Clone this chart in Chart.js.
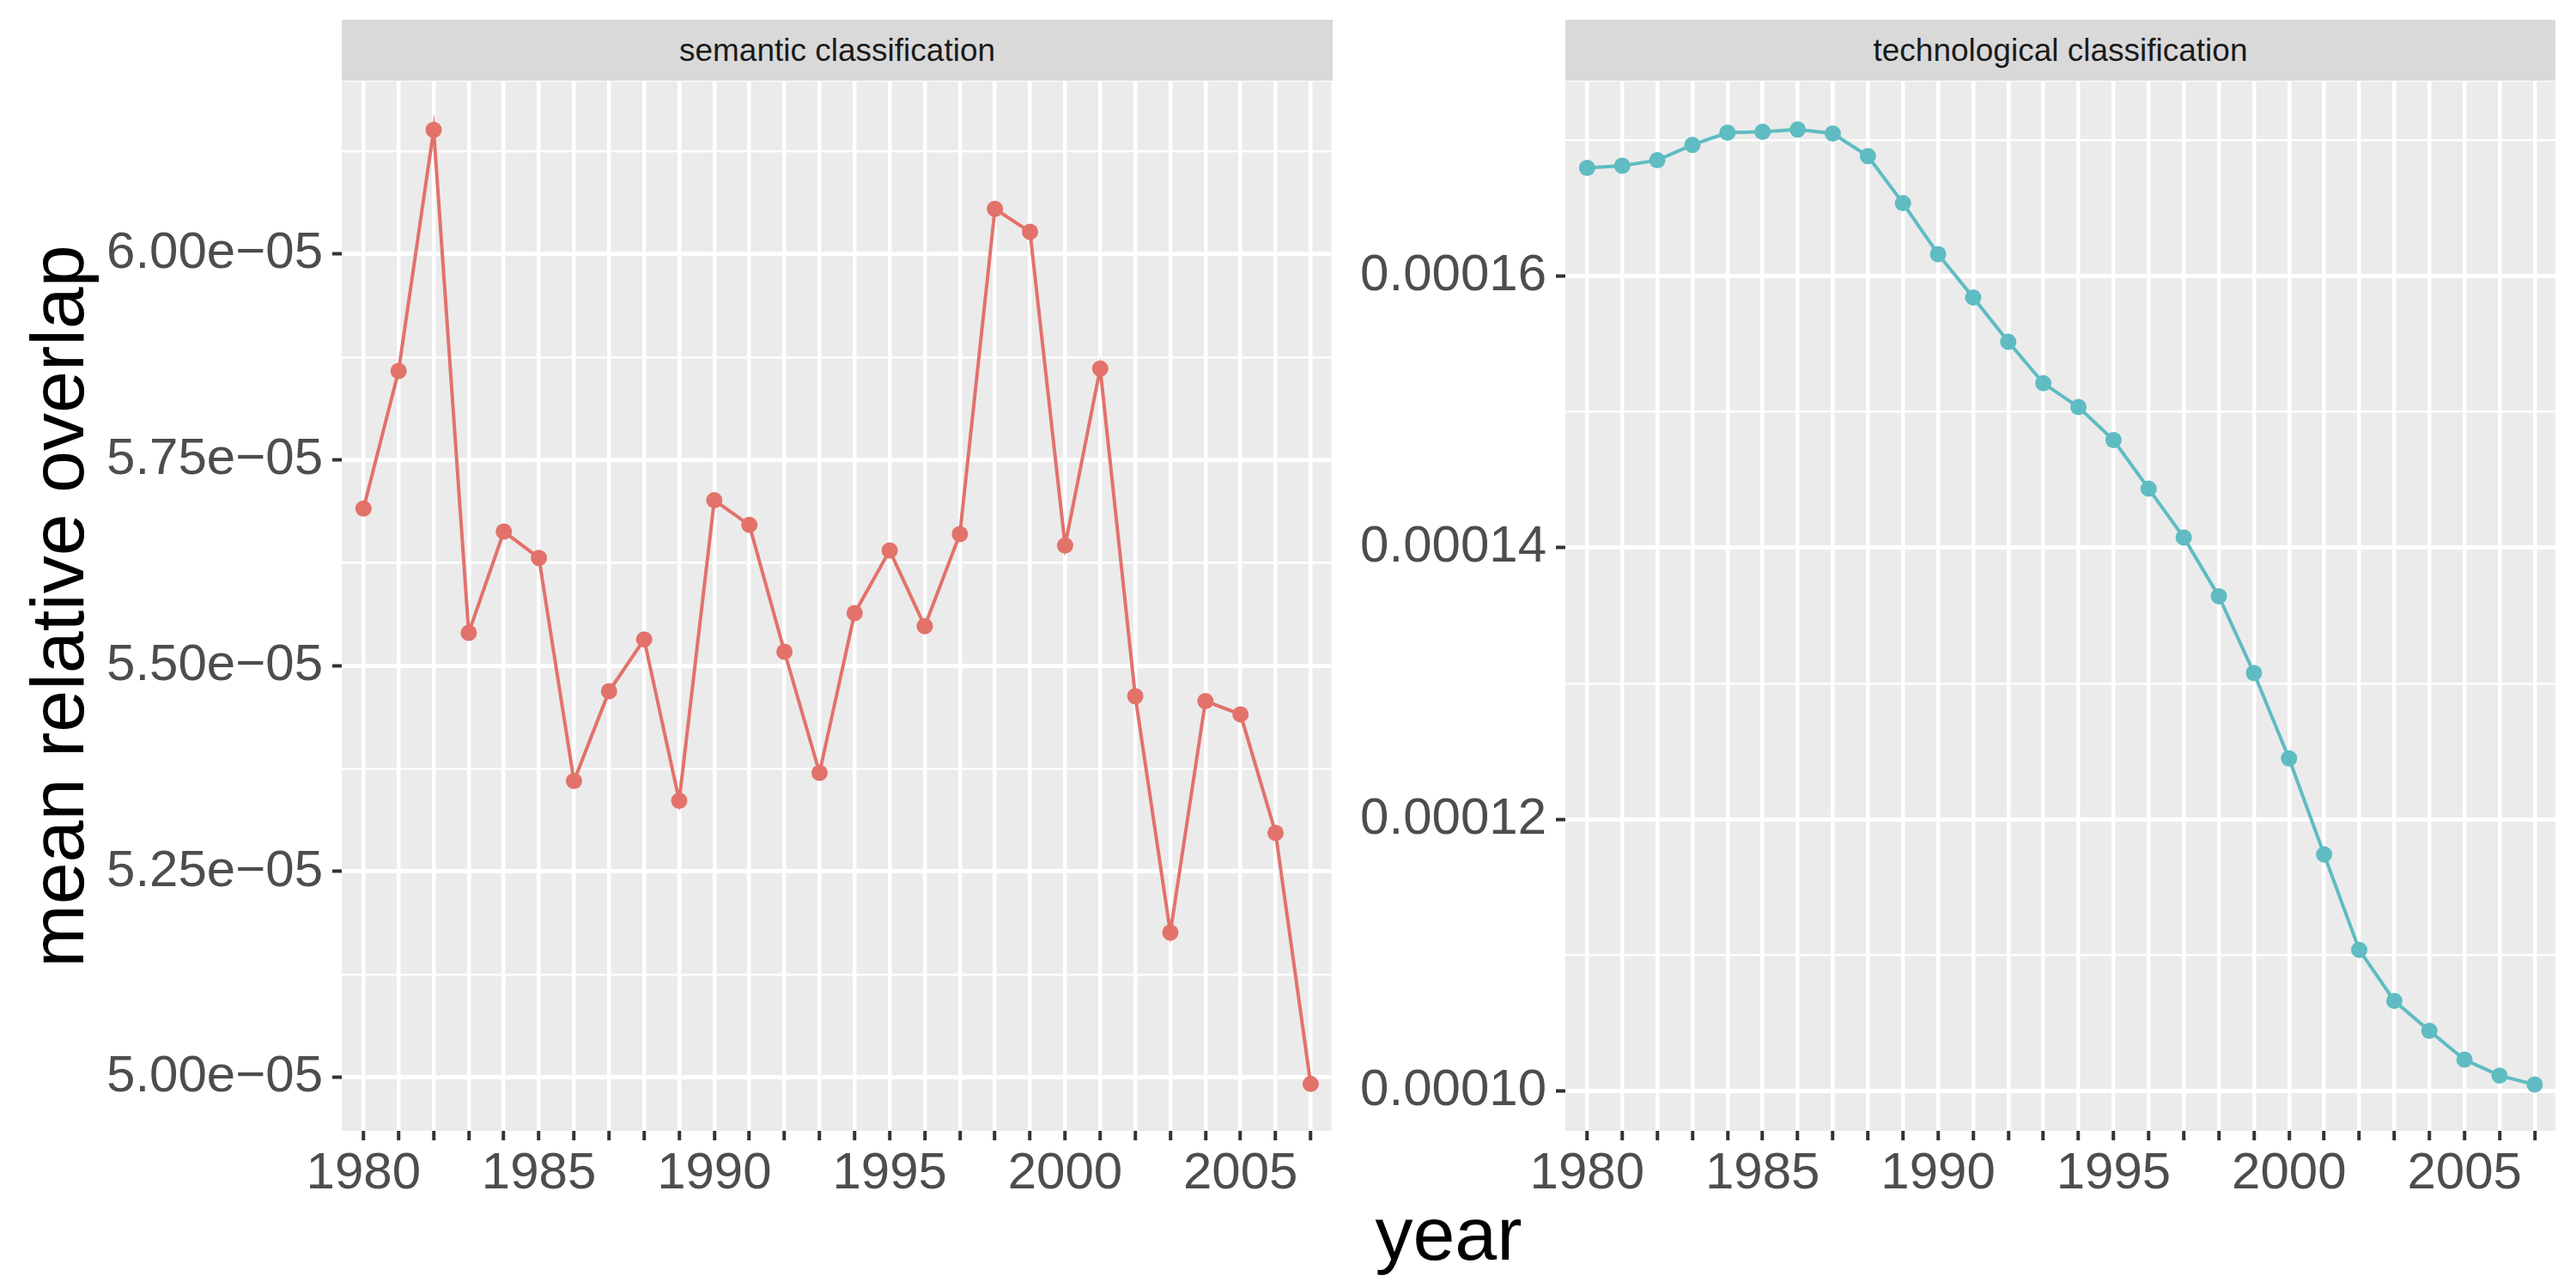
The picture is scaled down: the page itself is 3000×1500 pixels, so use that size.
<!DOCTYPE html>
<html lang="en">
<head>
  <meta charset="UTF-8" />
  <title>mean relative overlap</title>
  <script src="https://cdn.jsdelivr.net/npm/chart.js"></script>
  <style>
    body {
      margin: 0;
      width: 3000px;
      height: 1500px;
      background: #fff;
      overflow: hidden;
      position: relative;
      font-family: "Liberation Sans", Arial, sans-serif;
    }
    .box {
      position: absolute;
      top: 0;
      height: 1500px;
    }
    .strip {
      position: absolute;
      top: 23px;
      height: 71px;
      line-height: 71px;
      background: #d9d9d9;
      color: #1a1a1a;
      font-size: 37px;
      text-align: center;
    }
    .title {
      position: absolute;
      font-size: 88px;
      line-height: 88px;
      height: 88px;
      color: #000;
      text-align: center;
      white-space: nowrap;
    }
  </style>
</head>
<body>
  <div class="box" style="left:0;width:1560px;"><canvas id="semanticChart"></canvas></div>
  <div class="box" style="left:1560px;width:1440px;"><canvas id="techChart"></canvas></div>

  <div class="strip" style="left:398px;width:1154px;">semantic classification</div>
  <div class="strip" style="left:1823px;width:1153px;">technological classification</div>

  <div class="title" style="left:-433px;top:662px;width:1000px;transform:rotate(-90deg);">mean relative overlap</div>
  <div class="title" style="left:1487px;top:1393px;width:400px;">year</div>

  <script>
    const years = [1980, 1981, 1982, 1983, 1984, 1985, 1986, 1987, 1988, 1989,
                   1990, 1991, 1992, 1993, 1994, 1995, 1996, 1997, 1998, 1999,
                   2000, 2001, 2002, 2003, 2004, 2005, 2006, 2007];
    const labeledYears = [1980, 1985, 1990, 1995, 2000, 2005];

    const semantic = [5.691e-5, 5.858e-5, 6.151e-5, 5.540e-5, 5.663e-5, 5.631e-5, 5.360e-5,
                      5.469e-5, 5.532e-5, 5.336e-5, 5.701e-5, 5.671e-5, 5.517e-5, 5.370e-5,
                      5.564e-5, 5.640e-5, 5.548e-5, 5.660e-5, 6.055e-5, 6.027e-5, 5.646e-5,
                      5.861e-5, 5.463e-5, 5.176e-5, 5.457e-5, 5.441e-5, 5.297e-5, 4.992e-5];

    const technological = [1.6796e-4, 1.6812e-4, 1.6852e-4, 1.6965e-4, 1.7055e-4, 1.7061e-4, 1.7078e-4,
                           1.7049e-4, 1.6883e-4, 1.6536e-4, 1.6161e-4, 1.5842e-4, 1.5515e-4, 1.5210e-4,
                           1.5035e-4, 1.4792e-4, 1.4434e-4, 1.4075e-4, 1.3642e-4, 1.3077e-4, 1.2448e-4,
                           1.1741e-4, 1.1039e-4, 1.0663e-4, 1.0443e-4, 1.0231e-4, 1.0113e-4, 1.0047e-4];

    const semanticTicks = [5.00e-5, 5.25e-5, 5.50e-5, 5.75e-5, 6.00e-5];
    const semanticLabels = ["5.00e\u221205", "5.25e\u221205", "5.50e\u221205", "5.75e\u221205", "6.00e\u221205"];
    const semanticMinor = [5.125e-5, 5.375e-5, 5.625e-5, 5.875e-5, 6.125e-5];

    const techTicks = [1.0e-4, 1.2e-4, 1.4e-4, 1.6e-4];
    const techLabels = ["0.00010", "0.00012", "0.00014", "0.00016"];
    const techMinor = [1.1e-4, 1.3e-4, 1.5e-4, 1.7e-4];

    const tickFont = { family: "'Liberation Sans', Arial, sans-serif", size: 60 };

    // grey panel behind the grid
    const panelBg = {
      id: "panelBg",
      beforeDraw(chart) {
        const a = chart.chartArea;
        const ctx = chart.ctx;
        ctx.save();
        ctx.fillStyle = "#ebebeb";
        ctx.fillRect(a.left, a.top, a.right - a.left, a.bottom - a.top);
        ctx.restore();
      }
    };

    function makeChart(id, values, color, yMin, yMax, major, labels, minor, axisWidth, padRight) {
      const yTicks = major.map((v, i) => ({ value: v, lbl: labels[i] }))
        .concat(minor.map(v => ({ value: v, lbl: "" })))
        .sort((a, b) => a.value - b.value);
      const xTicks = years.map(y => ({ value: y, lbl: labeledYears.includes(y) ? String(y) : "" }));

      return new Chart(document.getElementById(id), {
        type: "line",
        data: {
          datasets: [{
            data: years.map((y, i) => ({ x: y, y: values[i] })),
            borderColor: color,
            backgroundColor: color,
            borderWidth: 4,
            pointRadius: 9.5,
            pointBorderWidth: 0,
            pointBackgroundColor: color,
            tension: 0
          }]
        },
        options: {
          responsive: true,
          maintainAspectRatio: false,
          animation: false,
          layout: { padding: { top: 95, right: padRight, bottom: 0, left: 0 } },
          plugins: { legend: { display: false }, tooltip: { enabled: false } },
          scales: {
            x: {
              type: "linear",
              min: 1979.38,
              max: 2007.59,
              afterBuildTicks: s => { s.ticks = xTicks.map(t => ({ ...t })); },
              afterFit: s => { s.height = 183; },
              border: { display: false },
              grid: { color: "#ffffff", lineWidth: 4.5, tickColor: "#333333", tickLength: 11, tickWidth: 4 },
              ticks: {
                autoSkip: false, maxRotation: 0, minRotation: 0, padding: 3,
                font: tickFont, color: "#4d4d4d",
                callback: (v, i, t) => t[i].lbl
              }
            },
            y: {
              min: yMin,
              max: yMax,
              afterBuildTicks: s => { s.ticks = yTicks.map(t => ({ ...t })); },
              afterFit: s => { s.width = axisWidth; },
              border: { display: false },
              grid: {
                color: "#ffffff",
                lineWidth: c => (c.tick && c.tick.lbl ? 5 : 2.5),
                tickColor: c => (c.tick && c.tick.lbl ? "#333333" : "rgba(0,0,0,0)"),
                tickLength: 11,
                tickWidth: 4
              },
              ticks: {
                autoSkip: false, padding: 11,
                font: tickFont, color: "#4d4d4d",
                callback: (v, i, t) => t[i].lbl
              }
            }
          }
        },
        plugins: [panelBg]
      });
    }

    makeChart("semanticChart", semantic, "#E2726A", 4.935e-5, 6.2096e-5,
              semanticTicks, semanticLabels, semanticMinor, 398, 8);
    makeChart("techChart", technological, "#5EBCC2", 0.97061e-4, 1.74311e-4,
              techTicks, techLabels, techMinor, 263, 24);
  </script>
</body>
</html>
